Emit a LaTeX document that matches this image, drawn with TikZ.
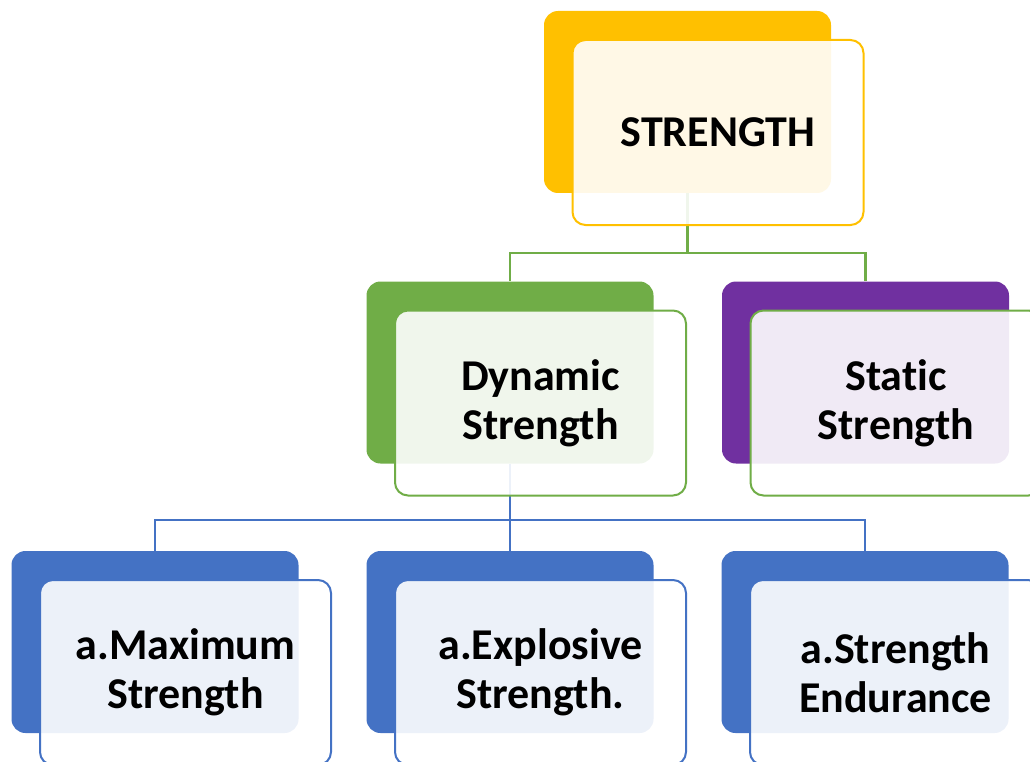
\documentclass[tikz,border=0pt]{standalone}
\usepackage{fontspec}
\setmainfont{Carlito}[Ligatures=NoCommon]
\usetikzlibrary{positioning}

\definecolor{gold}{HTML}{FFC000}
\definecolor{leaf}{HTML}{70AD47}
\definecolor{plum}{HTML}{7030A0}
\definecolor{sea}{HTML}{4472C4}

\begin{document}
\begin{tikzpicture}[x=1pt,y=-1pt]
\tikzstyle{every node}+=[inner sep=0pt]
\tikzstyle{back}=[rectangle, rounded corners=14pt, minimum width=287pt, minimum height=182pt]
\tikzstyle{front}=[rectangle, rounded corners=13pt, fill=white, fill opacity=0.9, text opacity=1, line width=2pt, minimum width=291pt, minimum height=185pt, align=center, font=\fontsize{44}{49}\selectfont\bfseries]
\tikzstyle{link}=[line width=2.5pt]
\useasboundingbox (0,0) rectangle (1030,762);
\clip (0,0) rectangle (1030,762);
\node[back, fill=gold] (topB) at (687.5,102) {};
\node[back, fill=leaf] (dynB) at (510,372.5) {};
\node[back, fill=plum] (statB) at (865.5,372.5) {};
\node[back, fill=sea] (maxB) at (155,642) {};
\node[back, fill=sea] (expB) at (510,642) {};
\node[back, fill=sea] (endB) at (865,642) {};
\coordinate (busA) at (0,253);
\coordinate (busB) at (0,520);
\draw[link, leaf] (topB.south) -- (topB.south |- busA) -| (dynB.north);
\draw[link, leaf] (topB.south) -- (topB.south |- busA) -| (statB.north);
\draw[link, sea] (dynB.south) -- (dynB.south |- busB) -| (maxB.north);
\draw[link, sea] (dynB.south) -- (expB.north);
\draw[link, sea] (dynB.south) -- (dynB.south |- busB) -| (endB.north);
\node[front, draw=gold] (topF) at ([shift={(30.5,30.5)}]topB) {STRENGTH};
\node[front, draw=leaf] (dynF) at ([shift={(30.5,30.5)}]dynB) {Dynamic\\Strength};
\node[front, draw=leaf] (statF) at ([shift={(30.5,30.5)}]statB) {Static\\Strength};
\node[front, draw=sea] (maxF) at ([shift={(30.5,30.5)}]maxB) {a.Maximum\\Strength};
\node[front, draw=sea] (expF) at ([shift={(30.5,30.5)}]expB) {a.Explosive\\Strength.};
\node[front, draw=sea] (endF) at ([shift={(30.5,30.5)}]endB) {a.Strength\\Endurance};
\end{tikzpicture}
\end{document}
